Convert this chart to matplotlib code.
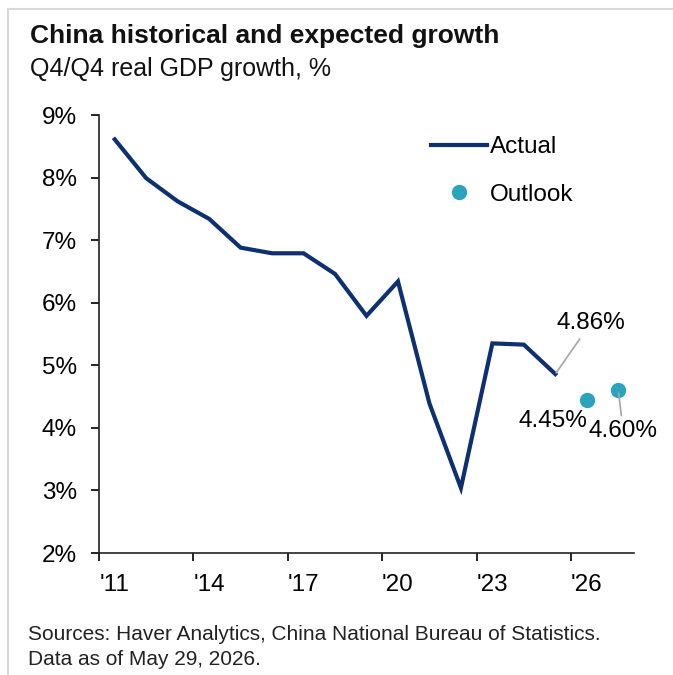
import matplotlib
matplotlib.use("Agg")
import matplotlib.pyplot as plt
from matplotlib.lines import Line2D

plt.rcParams["font.family"] = ["Liberation Sans", "DejaVu Sans"]

# data
years = [2011, 2012, 2013, 2014, 2015, 2016, 2017, 2018, 2019, 2020,
         2021, 2022, 2023, 2024, 2025]
actual = [8.61, 7.99, 7.62, 7.34, 6.88, 6.79, 6.79, 6.46, 5.79, 6.34,
          4.39, 3.04, 5.35, 5.33, 4.86]
outlook_years = [2026, 2027]
outlook = [4.45, 4.60]
tick_years = [2011, 2014, 2017, 2020, 2023, 2026]
tick_labels = ["'11", "'14", "'17", "'20", "'23", "'26"]
y_ticks = [2, 3, 4, 5, 6, 7, 8, 9]

NAVY = "#0c3070"
TEAL = "#2ba3bd"
W, H = 673, 675
FS = 17.5

fig = plt.figure(figsize=(W / 100, H / 100), dpi=100)
ax = fig.add_axes([99 / W, 1 - 553 / H, 535 / W, 438 / H])

ax.plot(years, actual, color=NAVY, lw=3.0, solid_joinstyle="miter", label="Actual")
ax.plot(outlook_years, outlook, "o", color=TEAL, ms=10, label="Outlook")

ax.set_xlim(2010.5, 2027.5)
ax.set_ylim(2, 9)

# ticks sit between categories, labels sit on the category centre
ax.set_xticks([y - 0.5 for y in tick_years])
ax.set_xticklabels([])
ax.set_xticks(tick_years, minor=True)
ax.set_xticklabels(tick_labels, minor=True)
ax.tick_params(axis="x", which="minor", length=0, pad=15, labelsize=FS)
ax.tick_params(axis="x", which="major", length=6, width=1.2, direction="out")

ax.set_yticks(y_ticks)
ax.set_yticklabels([f"{v}%" for v in y_ticks])
ax.tick_params(axis="y", length=6, width=1.2, pad=10, labelsize=FS)

for s in ["top", "right"]:
    ax.spines[s].set_visible(False)
for s in ["left", "bottom"]:
    ax.spines[s].set_linewidth(1.2)
    ax.spines[s].set_color("#222222")

# value labels
ax.annotate(f"{actual[-1]:.2f}%", xy=(years[-1], actual[-1]), xytext=(25.7, 36.9),
            textcoords="offset points", ha="center", va="center", fontsize=FS,
            arrowprops=dict(arrowstyle="-", color="#a6a6a6", lw=1.2, shrinkA=2, shrinkB=1))
ax.annotate(f"{outlook[0]:.2f}%", xy=(outlook_years[0], outlook[0]), xytext=(-24.7, -15.6),
            textcoords="offset points", ha="center", va="center", fontsize=FS)
ax.annotate(f"{outlook[1]:.2f}%", xy=(outlook_years[1], outlook[1]), xytext=(3.6, -29.1),
            textcoords="offset points", ha="center", va="center", fontsize=FS,
            arrowprops=dict(arrowstyle="-", color="#a6a6a6", lw=1.2, shrinkA=1, shrinkB=2))

ax.legend(loc="upper left", bbox_to_anchor=(431 / W, 1 - 136 / H), bbox_transform=fig.transFigure,
          frameon=False, fontsize=FS, handlelength=2.3, handletextpad=0.12,
          labelspacing=1.05, borderaxespad=0, borderpad=0)

# titles and footnote
fig.text(30 / W, 1 - 43 / H, "China historical and expected growth", fontsize=19,
         fontweight="bold", va="baseline", color="#111111")
fig.text(30 / W, 1 - 76 / H, "Q4/Q4 real GDP growth, %", fontsize=18, va="baseline",
         color="#111111")
fig.text(28 / W, 1 - 640 / H, "Sources: Haver Analytics, China National Bureau of Statistics.",
         fontsize=15, va="baseline", color="#222222")
fig.text(28 / W, 1 - 665 / H, "Data as of May 29, 2026.", fontsize=15, va="baseline",
         color="#222222")

# light frame on the top and left edges
fig.add_artist(Line2D([8 / W, 1], [1 - 9 / H, 1 - 9 / H], transform=fig.transFigure,
                      color="#d9d9d9", lw=1.5))
fig.add_artist(Line2D([8 / W, 8 / W], [0, 1 - 9 / H], transform=fig.transFigure,
                      color="#d9d9d9", lw=1.5))

fig.savefig("out.png", dpi=100)
